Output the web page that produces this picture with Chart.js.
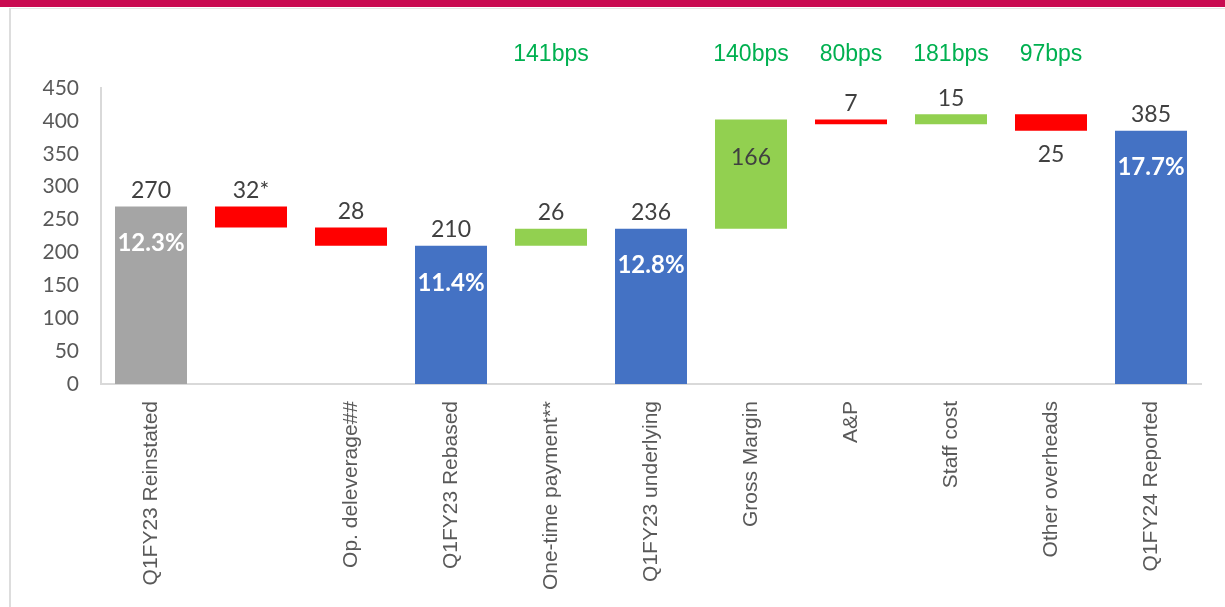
<!DOCTYPE html>
<html>
<head>
<meta charset="utf-8">
<script src="https://cdn.jsdelivr.net/npm/chart.js@4.4.0/dist/chart.umd.min.js"></script>
<style>
  html, body { margin: 0; padding: 0; background: #fff; }
  body { width: 1225px; height: 607px; position: relative; overflow: hidden; }
  #topbar { position: absolute; left: 0; top: 0; width: 1225px; height: 7px; background: #C90B51; }
  #frame { position: absolute; left: 9px; top: 8px; width: 1230px; height: 620px; border-left: 2px solid #DDDDDD; border-top: 1px solid #E6E6E6; }
  #wrap { position: absolute; left: 0; top: 0; width: 1225px; height: 607px; }
</style>
</head>
<body>
<div id="topbar"></div>
<div id="frame"></div>
<div id="wrap"><canvas id="chart"></canvas></div>
<script>
// data
const categories = ['Q1FY23 Reinstated', '', 'Op. deleverage##', 'Q1FY23 Rebased', 'One-time payment**',
  'Q1FY23 underlying', 'Gross Margin', 'A&P', 'Staff cost', 'Other overheads', 'Q1FY24 Reported'];
const barLow  = [0, 238, 210, 0, 210, 0, 236, 395, 395, 385, 0];
const barHigh = [270, 270, 238, 210, 236, 236, 402, 402, 410, 410, 385];
const barKind = ['start', 'down', 'down', 'total', 'up', 'total', 'up', 'down', 'up', 'down', 'total'];
const valueLabels = ['270', '32*', '28', '210', '26', '236', '166', '7', '15', '25', '385'];
const valuePlace  = ['above', 'above', 'above', 'above', 'above', 'above', 'inside', 'above', 'above', 'below', 'above'];
const marginLabels = ['12.3%', '', '', '11.4%', '', '12.8%', '', '', '', '', '17.7%'];
const bpsLabels = ['', '', '', '', '141bps', '', '140bps', '80bps', '181bps', '97bps', ''];
const yTicks = [0, 50, 100, 150, 200, 250, 300, 350, 400, 450];

const kindColor = { start: '#A5A5A5', down: '#FF0000', up: '#92D050', total: '#4472C4' };

const labelPlugin = {
  id: 'wfLabels',
  afterDatasetsDraw(chart) {
    const c = chart.ctx;
    const meta = chart.getDatasetMeta(0);
    c.save();
    c.textAlign = 'center';
    c.textBaseline = 'middle';
    meta.data.forEach((bar, i) => {
      const top = Math.min(bar.y, bar.base);
      const bottom = Math.max(bar.y, bar.base);
      // value labels
      c.fillStyle = '#404040';
      c.font = '23px Lato';
      let y = top - 16;
      if (valuePlace[i] === 'inside') y = top + 38;
      if (valuePlace[i] === 'below') y = bottom + 24;
      c.fillText(valueLabels[i], bar.x, y);
      // margin % inside totals
      if (marginLabels[i]) {
        c.fillStyle = '#FFFFFF';
        c.font = 'bold 24px Lato';
        c.fillText(marginLabels[i], bar.x, top + 37);
      }
      // bps on top
      if (bpsLabels[i]) {
        c.fillStyle = '#00B050';
        c.font = '23px "Liberation Sans"';
        c.fillText(bpsLabels[i], bar.x, chart.chartArea.top - 33);
      }
    });
    c.restore();
  }
};

const ctx = document.getElementById('chart');
const chart = new Chart(ctx, {
  type: 'bar',
  data: {
    labels: categories,
    datasets: [{
      data: barLow.map((v, i) => [v, barHigh[i]]),
      backgroundColor: barKind.map(k => kindColor[k]),
      borderWidth: 0,
      barPercentage: 0.72,
      categoryPercentage: 1
    }]
  },
  options: {
    responsive: false,
    animation: false,
    devicePixelRatio: 1,
    layout: { padding: { top: 88, right: 13, left: 0, bottom: 0 } },
    plugins: { legend: { display: false }, tooltip: { enabled: false } },
    scales: {
      x: {
        grid: { display: false, drawTicks: false },
        border: { display: true, color: '#D9D9D9', width: 2 },
        ticks: {
          autoSkip: false, maxRotation: 90, minRotation: 90, padding: 17,
          color: '#595959',
          font: { family: '"Liberation Sans"', size: 21 }
        },
        afterFit(s) { s.height = 607 - 384; }
      },
      y: {
        min: 0, max: 450,
        afterBuildTicks(s) { s.ticks = yTicks.map(v => ({ value: v })); },
        grid: { display: false, drawTicks: false },
        border: { display: true, color: '#D9D9D9', width: 2 },
        ticks: { padding: 22, color: '#595959', font: { family: 'Lato', size: 21 } },
        afterFit(s) { s.width = 101; }
      }
    }
  },
  plugins: [labelPlugin]
});
ctx.width = 1225; ctx.height = 607;
chart.resize(1225, 607);
</script>
</body>
</html>
